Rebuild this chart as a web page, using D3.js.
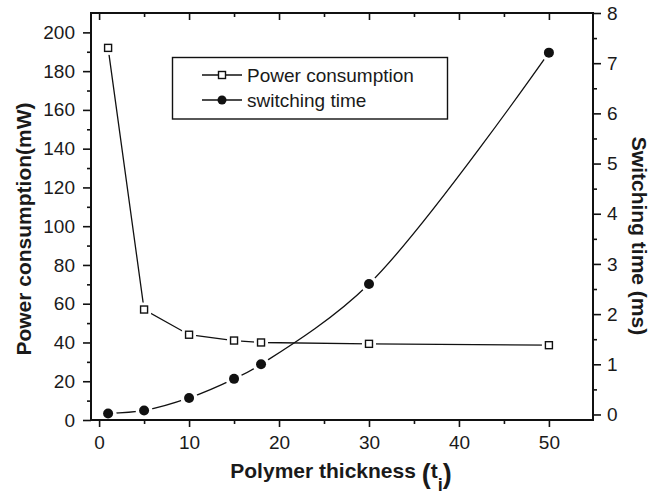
<!DOCTYPE html>
<html>
<head>
<meta charset="utf-8">
<script src="https://cdn.jsdelivr.net/npm/d3@7"></script>
<style>
  body { margin: 0; background: #fff; }
  svg text { font-family: "Liberation Sans", Arial, sans-serif; fill: #1a1a1a; }
</style>
</head>
<body>
<div class="chart"></div>
<script>
var thickness = [1, 5, 10, 15, 18, 30, 50];
var powerMW = [192, 57, 44, 41, 40, 39.3, 38.6];
var switchMs = [0.02, 0.08, 0.33, 0.71, 1.0, 2.6, 7.21];

var xTicks = [0, 10, 20, 30, 40, 50];
var xMinor = [5, 15, 25, 35, 45];
var leftTicks = [0, 20, 40, 60, 80, 100, 120, 140, 160, 180, 200];
var leftMinor = [10, 30, 50, 70, 90, 110, 130, 150, 170, 190];
var rightTicks = [0, 1, 2, 3, 4, 5, 6, 7, 8];
var rightMinor = [0.5, 1.5, 2.5, 3.5, 4.5, 5.5, 6.5, 7.5];

var seriesNames = ['Power consumption', 'switching time'];

var w = 651,
    h = 497;
var plotL = 91, plotR = 593, plotT = 13, plotB = 420;

var svg = d3.select('.chart').append('svg').attr('width', w).attr('height', h);

var x = d3.scaleLinear().domain([-0.9, 54.9]).range([plotL, plotR]);
var yL = d3.scaleLinear().domain([0, 210]).range([plotB, plotT]);
var yR = d3.scaleLinear().domain([-0.11, 8]).range([plotB, plotT]);

var powerData = thickness.map(function (t, i) { return [t, powerMW[i]]; });
var switchData = thickness.map(function (t, i) { return [t, switchMs[i]]; });

// lines
var powerLine = d3.line()
  .x(function (d) { return x(d[0]); })
  .y(function (d) { return yL(d[1]); });
var switchLine = d3.line()
  .curve(d3.curveCatmullRom.alpha(0.5))
  .x(function (d) { return x(d[0]); })
  .y(function (d) { return yR(d[1]); });

svg.append('path').datum(powerData).attr('d', powerLine)
  .attr('fill', 'none').attr('stroke', '#111').attr('stroke-width', 1.3);
svg.append('path').datum(switchData).attr('d', switchLine)
  .attr('fill', 'none').attr('stroke', '#111').attr('stroke-width', 1.3);

// white halos so lines stop short of the markers
svg.selectAll('.halo-sq').data(powerData).enter().append('rect')
  .attr('x', function (d) { return x(d[0]) - 7; })
  .attr('y', function (d) { return yL(d[1]) - 7; })
  .attr('width', 14).attr('height', 14).attr('fill', '#fff');
svg.selectAll('.halo-ci').data(switchData).enter().append('circle')
  .attr('cx', function (d) { return x(d[0]); })
  .attr('cy', function (d) { return yR(d[1]); })
  .attr('r', 8.5).attr('fill', '#fff');

// markers
svg.selectAll('.sq').data(powerData).enter().append('rect')
  .attr('x', function (d) { return x(d[0]) - 3.5; })
  .attr('y', function (d) { return yL(d[1]) - 3.5; })
  .attr('width', 7).attr('height', 7)
  .attr('fill', '#fff').attr('stroke', '#111').attr('stroke-width', 1.4);
svg.selectAll('.ci').data(switchData).enter().append('circle')
  .attr('cx', function (d) { return x(d[0]); })
  .attr('cy', function (d) { return yR(d[1]); })
  .attr('r', 5).attr('fill', '#111');

// axes
function styleAxis(g, hideText) {
  g.select('.domain').remove();
  g.selectAll('line').attr('stroke', '#111').attr('stroke-width', 1.6);
  g.selectAll('text').style('font-size', '19px').attr('fill', '#1a1a1a');
  if (hideText) g.selectAll('text').remove();
}

svg.append('g').attr('transform', 'translate(0,' + plotB + ')')
  .call(d3.axisBottom(x).tickValues(xTicks).tickSize(7).tickPadding(9).tickFormat(d3.format('d')))
  .call(styleAxis);
svg.append('g').attr('transform', 'translate(0,' + plotB + ')')
  .call(d3.axisBottom(x).tickValues(xMinor).tickSize(4))
  .call(styleAxis, true);
svg.append('g').attr('transform', 'translate(0,' + plotT + ')')
  .call(d3.axisTop(x).tickValues(xTicks).tickSize(-7))
  .call(styleAxis, true);
svg.append('g').attr('transform', 'translate(0,' + plotT + ')')
  .call(d3.axisTop(x).tickValues(xMinor).tickSize(-4))
  .call(styleAxis, true);

svg.append('g').attr('transform', 'translate(' + plotL + ',0)')
  .call(d3.axisLeft(yL).tickValues(leftTicks).tickSize(8).tickPadding(8).tickFormat(d3.format('d')))
  .call(styleAxis);
svg.append('g').attr('transform', 'translate(' + plotL + ',0)')
  .call(d3.axisLeft(yL).tickValues(leftMinor).tickSize(4))
  .call(styleAxis, true);

svg.append('g').attr('transform', 'translate(' + plotR + ',0)')
  .call(d3.axisRight(yR).tickValues(rightTicks).tickSize(8).tickPadding(6).tickFormat(d3.format('d')))
  .call(styleAxis);
svg.append('g').attr('transform', 'translate(' + plotR + ',0)')
  .call(d3.axisRight(yR).tickValues(rightMinor).tickSize(4))
  .call(styleAxis, true);

// frame
svg.append('rect')
  .attr('x', plotL).attr('y', plotT)
  .attr('width', plotR - plotL).attr('height', plotB - plotT)
  .attr('fill', 'none').attr('stroke', '#111').attr('stroke-width', 2);

// legend
var legend = svg.append('g');
legend.append('rect')
  .attr('x', 172.5).attr('y', 57.5).attr('width', 275).attr('height', 61.5)
  .attr('fill', '#fff').attr('stroke', '#111').attr('stroke-width', 1.4);

var rows = legend.selectAll('.row').data(seriesNames).enter().append('g')
  .attr('transform', function (d, i) { return 'translate(0,' + (75 + i * 25) + ')'; });
rows.append('line').attr('x1', 202).attr('x2', 242).attr('y1', 0).attr('y2', 0)
  .attr('stroke', '#111').attr('stroke-width', 1.3);
rows.filter(function (d, i) { return i === 0; }).append('rect')
  .attr('x', 218.5).attr('y', -3.5).attr('width', 7).attr('height', 7)
  .attr('fill', '#fff').attr('stroke', '#111').attr('stroke-width', 1.4);
rows.filter(function (d, i) { return i === 1; }).append('circle')
  .attr('cx', 222).attr('cy', 0).attr('r', 4.5).attr('fill', '#111');
rows.append('text').attr('x', 247).attr('y', 7)
  .style('font-size', '19px')
  .text(function (d) { return d; });

// axis titles
var xTitle = svg.append('text')
  .attr('x', 341).attr('y', 478)
  .attr('text-anchor', 'middle')
  .style('font-size', '21px').style('font-weight', 'bold');
xTitle.append('tspan').text('Polymer thickness ');
xTitle.append('tspan').style('font-size', '27px').attr('dy', 5).text('(');
xTitle.append('tspan').attr('dy', -5).text('t');
xTitle.append('tspan').style('font-size', '18px').attr('dy', 13).text('i');
xTitle.append('tspan').style('font-size', '27px').attr('dy', -8).text(')');

svg.append('text')
  .attr('transform', 'translate(31,229) rotate(-90)')
  .attr('text-anchor', 'middle')
  .style('font-size', '21px').style('font-weight', 'bold')
  .text('Power consumption(mW)');

svg.append('text')
  .attr('transform', 'translate(632,236) rotate(90)')
  .attr('text-anchor', 'middle')
  .style('font-size', '21px').style('font-weight', 'bold')
  .text('Switching time (ms)');
</script>
</body>
</html>
